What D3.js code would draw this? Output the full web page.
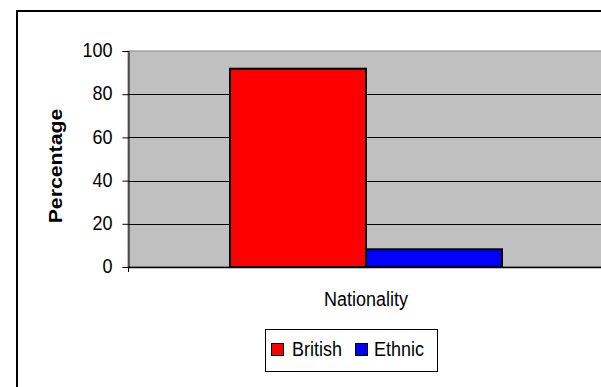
<!DOCTYPE html>
<html>
<head>
<meta charset="utf-8">
<script src="https://cdn.jsdelivr.net/npm/d3@7"></script>
<style>
  body { margin: 0; background: #fff; }
  text { font-family: "Liberation Sans", Arial, sans-serif; fill: #000; }
</style>
</head>
<body>
<script>
const CATEGORIES = ["Nationality"];
const SERIES = ["British", "Ethnic"];
const VALUES = [91.8, 8.2];
const COLORS = ["#ff0000", "#0000ff"];
const Y_TICKS = [0, 20, 40, 60, 80, 100];

const WIDTH = 601;
const HEIGHT = 387;
const PLOT_LEFT = 128;
const PLOT_TOP = 51;
const PLOT_RIGHT = 604;
const PLOT_BOTTOM = 267;
// the original chart text looks a little stretched vertically
const TEXT_STRETCH = 1.12;

const svg = d3.select("body").append("svg")
  .attr("width", WIDTH)
  .attr("height", HEIGHT);

// outer chart frame (runs off the right and bottom edge)
svg.append("rect")
  .attr("x", 17).attr("y", 11)
  .attr("width", 700).attr("height", 500)
  .attr("fill", "#fff")
  .attr("stroke", "#000")
  .attr("stroke-width", 2);

const x0 = d3.scaleBand().domain(CATEGORIES).range([PLOT_LEFT, PLOT_RIGHT]).padding(0);
// Excel gap width 150% -> half a gap of 0.75 bar on each side
const x1 = d3.scaleBand().domain(SERIES).range([0, x0.bandwidth()]).paddingInner(0).paddingOuter(0.75);
const y = d3.scaleLinear().domain([0, 100]).range([PLOT_BOTTOM, PLOT_TOP]);

// plot area
svg.append("rect")
  .attr("x", PLOT_LEFT).attr("y", PLOT_TOP)
  .attr("width", PLOT_RIGHT - PLOT_LEFT).attr("height", PLOT_BOTTOM - PLOT_TOP)
  .attr("fill", "#c0c0c0")
  .attr("stroke", "#808080")
  .attr("stroke-width", 1);

// gridlines
svg.append("g")
  .selectAll("line")
  .data(Y_TICKS.filter(d => d > 0 && d < 100))
  .enter().append("line")
  .attr("x1", PLOT_LEFT).attr("x2", PLOT_RIGHT)
  .attr("y1", d => Math.round(y(d)) + 0.5).attr("y2", d => Math.round(y(d)) + 0.5)
  .attr("stroke", "#000")
  .attr("stroke-width", 1);

// bars
svg.append("g")
  .selectAll("rect")
  .data(SERIES)
  .enter().append("rect")
  .attr("x", (d) => x0(CATEGORIES[0]) + x1(d))
  .attr("y", (d, i) => y(VALUES[i]))
  .attr("width", x1.bandwidth())
  .attr("height", (d, i) => y(0) - y(VALUES[i]))
  .attr("fill", (d, i) => COLORS[i])
  .attr("stroke", "#000")
  .attr("stroke-width", 2);

// y axis
const yAxis = svg.append("g")
  .attr("transform", `translate(${PLOT_LEFT + 0.5},0)`)
  .call(d3.axisLeft(y).tickValues(Y_TICKS).tickSize(6).tickPadding(10));
yAxis.select(".domain").attr("stroke", "#000");
yAxis.selectAll(".tick line").attr("stroke", "#000");
yAxis.selectAll(".tick text")
  .style("font-size", "18px")
  .attr("fill", "#000")
  .attr("dy", "0.28em")
  .attr("transform", `scale(1,${TEXT_STRETCH})`);

// x axis
svg.append("line")
  .attr("x1", PLOT_LEFT).attr("x2", PLOT_RIGHT)
  .attr("y1", PLOT_BOTTOM + 0.5).attr("y2", PLOT_BOTTOM + 0.5)
  .attr("stroke", "#000")
  .attr("stroke-width", 1.5);
svg.append("line")
  .attr("x1", PLOT_LEFT + 0.5).attr("x2", PLOT_LEFT + 0.5)
  .attr("y1", PLOT_BOTTOM).attr("y2", PLOT_BOTTOM + 5)
  .attr("stroke", "#000");

svg.append("text")
  .attr("transform", `translate(${x0(CATEGORIES[0]) + x0.bandwidth() / 2},306) scale(1,${TEXT_STRETCH})`)
  .attr("text-anchor", "middle")
  .style("font-size", "18px")
  .text(CATEGORIES[0]);

// y axis title
svg.append("text")
  .attr("transform", `translate(62,${(PLOT_TOP + PLOT_BOTTOM) / 2 + 7}) scale(1,${TEXT_STRETCH}) rotate(-90)`)
  .attr("text-anchor", "middle")
  .style("font-size", "19px")
  .style("font-weight", "bold")
  .text("Percentage");

// legend
const legend = svg.append("g").attr("transform", "translate(265,329)");
legend.append("rect")
  .attr("x", 0.5).attr("y", 0.5)
  .attr("width", 172).attr("height", 42)
  .attr("fill", "#fff")
  .attr("stroke", "#000");
const LEGEND_X = [6, 90];
const item = legend.selectAll("g.item")
  .data(SERIES)
  .enter().append("g")
  .attr("class", "item")
  .attr("transform", (d, i) => `translate(${LEGEND_X[i]},0)`);
item.append("rect")
  .attr("x", 0.5).attr("y", 14.5)
  .attr("width", 12).attr("height", 12)
  .attr("fill", (d, i) => COLORS[i])
  .attr("stroke", "#000");
item.append("text")
  .attr("transform", (d, i) => `translate(${i === 0 ? 21 : 19},27) scale(1,${TEXT_STRETCH})`)
  .style("font-size", "18px")
  .text(d => d);
</script>
</body>
</html>
